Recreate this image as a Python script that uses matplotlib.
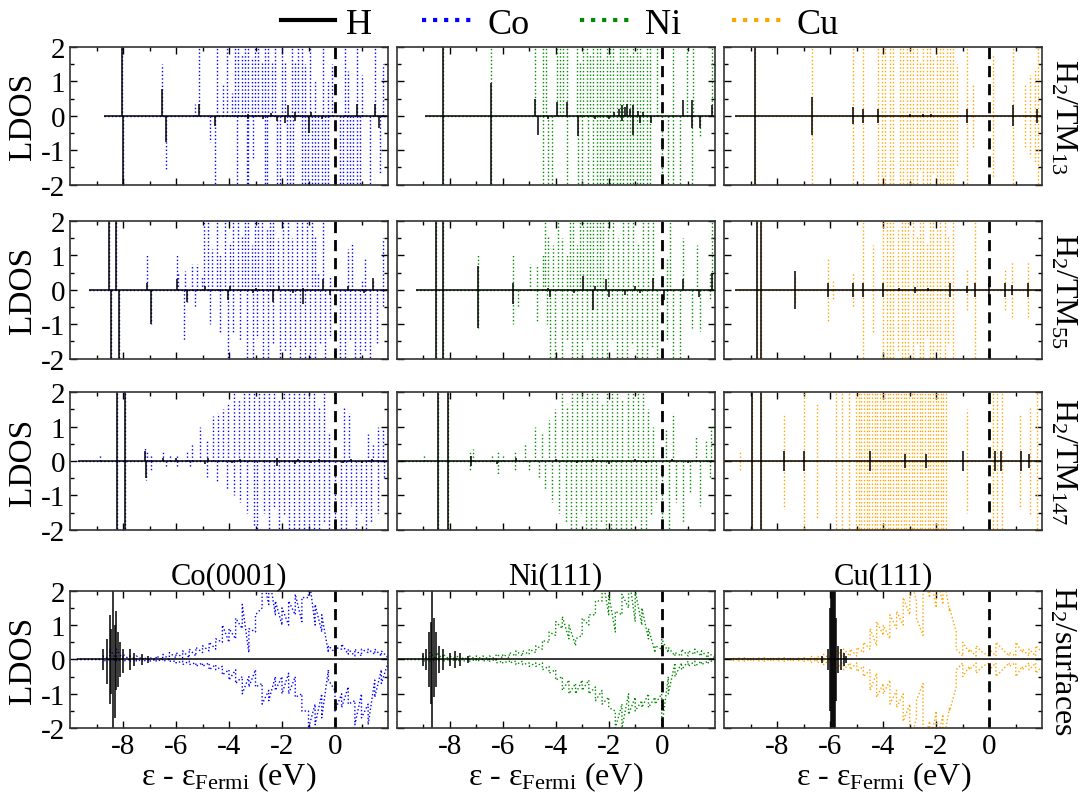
import matplotlib.pyplot as plt
import numpy as np
from matplotlib.lines import Line2D

plt.rcParams['font.family'] = ['Liberation Serif', 'DejaVu Serif']
plt.rcParams['mathtext.fontset'] = 'custom'
plt.rcParams['mathtext.rm'] = 'Liberation Serif'
plt.rcParams['mathtext.it'] = 'Liberation Serif:italic'
plt.rcParams['axes.unicode_minus'] = False

# ---- spike data for the clusters: [energy (eV), height]; 2.5 means clipped ----
# H2/Co13
co13_start = -8.7
co13_tm_up = [[-8.05, 2.5], [-6.52, 1.5], [-5.28, 0.35], [-5.13, 2.5], [-4.47, 2.5], [-4.24, 0.95],
              [-4.09, 2.5], [-3.90, 0.65], [-3.77, 2.5], [-3.65, 2.5], [-3.52, 1.8], [-3.40, 2.5],
              [-3.27, 2.5], [-3.14, 1.7], [-3.02, 2.5], [-2.89, 2.5], [-2.77, 1.6], [-2.64, 2.5],
              [-2.52, 2.5], [-2.39, 1.6], [-2.26, 2.5], [-2.01, 2.5], [-1.89, 1.6], [-1.64, 2.5],
              [-1.51, 1.6], [-1.38, 2.5], [-1.26, 2.5], [-1.13, 1.5], [-0.94, 2.5], [-0.75, 1.0],
              [-0.44, 2.5], [-0.25, 1.0], [-0.13, 1.5], [0.38, 2.5], [0.50, 1.3], [0.82, 2.5],
              [1.01, 1.2], [1.51, 2.5], [1.82, 1.5]]
co13_tm_dn = [[-8.01, 2.5], [-6.39, 1.56], [-4.72, 0.75], [-4.53, 2.5], [-3.71, 2.5], [-3.33, 2.5],
              [-3.27, 2.5], [-3.08, 1.3], [-2.64, 2.5], [-2.58, 2.5], [-2.20, 2.5], [-2.08, 2.5],
              [-1.82, 2.5], [-1.70, 2.5], [-1.57, 2.5], [-1.26, 2.5], [-1.13, 2.5], [-1.01, 2.5],
              [-0.88, 2.5], [-0.75, 2.5], [-0.63, 2.5], [-0.50, 2.5], [-0.38, 2.5], [-0.25, 2.5],
              [0.19, 2.5], [0.31, 2.5], [0.44, 2.5], [0.57, 2.5], [0.69, 2.5], [0.82, 2.5],
              [0.94, 2.5], [1.32, 2.5], [1.70, 1.7]]
co13_h_up = [[-8.05, 2.5], [-6.52, 0.78], [-5.14, 0.35], [-3.3, 0.05], [-2.4, 0.08], [-1.76, 0.3],
             [-1.5, 0.1], [-0.9, 0.1], [0.82, 0.35], [1.51, 0.35]]
co13_h_dn = [[-8.01, 2.5], [-6.39, 0.75], [-4.53, 0.3], [-3.3, 0.1], [-2.7, 0.1], [-2.2, 0.15],
             [-1.9, 0.2], [-1.5, 0.15], [-1.0, 0.5], [-0.5, 0.1], [1.65, 0.35]]

# H2/Ni13
ni13_start = -8.95
ni13_tm_up = [[-8.26, 2.5], [-6.44, 2.5], [-4.78, 2.5], [-4.47, 2.5], [-4.36, 2.5], [-3.96, 2.5],
              [-3.84, 2.5], [-3.71, 2.5], [-3.58, 2.5], [-3.21, 2.5], [-3.08, 1.6], [-2.96, 2.5],
              [-2.83, 2.5], [-2.70, 1.8], [-2.58, 2.5], [-2.45, 2.5], [-2.33, 2.5], [-2.20, 1.7],
              [-2.08, 2.5], [-1.95, 2.5], [-1.82, 2.5], [-1.70, 1.6], [-1.57, 2.5], [-1.45, 2.5],
              [-1.32, 2.5], [-1.19, 1.8], [-1.07, 2.5], [-0.94, 2.5], [-0.82, 2.5], [-0.69, 1.7],
              [-0.57, 2.5], [-0.44, 2.5], [-0.19, 2.5], [0.44, 2.5], [0.94, 2.5], [1.19, 2.5],
              [1.89, 2.5]]
ni13_tm_dn = [[-8.26, 2.5], [-6.44, 2.5], [-4.47, 2.5], [-4.28, 2.5], [-4.15, 2.5], [-3.58, 2.5],
              [-3.14, 2.5], [-3.02, 2.5], [-2.77, 2.5], [-2.58, 2.5], [-2.45, 2.5], [-2.33, 2.5],
              [-2.20, 2.5], [-2.08, 2.5], [-1.95, 2.5], [-1.82, 2.5], [-1.70, 2.5], [-1.57, 2.5],
              [-1.45, 2.5], [-1.32, 2.5], [-1.19, 2.5], [-1.07, 2.5], [-0.94, 2.5], [-0.82, 2.5],
              [-0.69, 2.5], [-0.57, 2.5], [-0.44, 2.5], [0.0, 2.5], [0.25, 2.5], [0.44, 2.5],
              [0.69, 2.5], [1.13, 2.5], [1.45, 0.6]]
ni13_h_up = [[-8.26, 2.5], [-6.44, 0.95], [-4.78, 0.5], [-3.96, 0.4], [-3.59, 0.4], [-1.8, 0.1],
             [-1.6, 0.2], [-1.5, 0.3], [-1.4, 0.25], [-1.3, 0.35], [-1.2, 0.2], [-1.1, 0.3],
             [-0.9, 0.15], [-0.7, 0.1], [0.82, 0.45], [1.13, 0.45], [1.89, 0.3]]
ni13_h_dn = [[-8.26, 2.5], [-6.44, 2.5], [-4.65, 0.55], [-4.3, 0.1], [-3.14, 0.6], [-2.5, 0.1],
             [-2.0, 0.1], [-1.5, 0.15], [-1.07, 0.55], [-0.8, 0.2], [-0.4, 0.2], [1.13, 0.35],
             [1.45, 0.35]]

# H2/Cu13 (up and down are the same)
cu13_start = -9.6
cu13_tm = [[-8.84, 2.5], [-6.70, 2.5], [-5.16, 2.5], [-4.75, 2.5], [-4.19, 2.5], [-4.06, 2.5],
           [-3.94, 2.5], [-3.75, 2.5], [-3.62, 2.5], [-3.37, 2.5], [-3.25, 2.5], [-3.12, 2.5],
           [-2.99, 2.5], [-2.87, 2.5], [-2.74, 2.5], [-2.62, 1.6], [-2.49, 2.5], [-2.36, 2.5],
           [-2.24, 2.5], [-2.11, 1.7], [-1.99, 2.5], [-1.86, 2.5], [-1.74, 2.5], [-1.61, 2.5],
           [-1.48, 2.5], [-1.36, 2.5], [-1.23, 1.5], [-0.86, 2.5], [-0.60, 0.9], [0.15, 1.8],
           [0.91, 2.5], [1.35, 0.9], [1.53, 1.2], [1.72, 1.4], [1.85, 2.5]]
cu13_h = [[-8.84, 2.5], [-6.70, 0.55], [-5.16, 0.25], [-4.75, 0.2], [-4.19, 0.2], [-3.0, 0.05],
          [-2.5, 0.05], [-2.2, 0.05], [-0.86, 0.2], [0.91, 0.3], [1.8, 0.2]]

# H2/Co55
co55_start = -9.27
co55_tm_up = [[-8.53, 2.5], [-8.26, 2.5], [-7.11, 1.0], [-5.97, 1.0], [-5.91, 0.5], [-5.66, 0.55],
              [-5.41, 0.75], [-5.22, 0.75], [-5.03, 0.4], [-4.94, 2.5], [-4.78, 2.5], [-4.65, 1.2],
              [-4.47, 2.5], [-4.34, 1.0], [-4.15, 2.5], [-3.96, 1.4], [-3.84, 2.5], [-3.65, 2.5],
              [-3.52, 1.6], [-3.40, 2.5], [-3.27, 2.5], [-3.14, 1.3], [-3.02, 2.5], [-2.89, 2.5],
              [-2.77, 2.5], [-2.58, 1.8], [-2.45, 2.5], [-2.33, 2.5], [-2.14, 1.5], [-1.95, 2.5],
              [-1.76, 2.5], [-1.64, 1.5], [-1.45, 2.5], [-1.26, 2.5], [-1.07, 2.5], [-0.88, 2.5],
              [-0.75, 1.6], [-0.63, 0.5], [-0.44, 2.5], [-0.19, 0.4], [0.50, 1.2], [0.63, 1.4],
              [1.01, 0.3], [1.13, 0.9], [1.45, 0.3], [1.82, 1.5]]
co55_tm_dn = [[-8.45, 2.5], [-8.15, 2.5], [-6.96, 1.0], [-5.69, 1.5], [-5.60, 0.35], [-5.28, 0.5],
              [-4.72, 1.0], [-4.34, 1.3], [-4.03, 2.5], [-3.84, 1.3], [-3.58, 1.5], [-3.33, 2.5],
              [-3.08, 2.5], [-2.96, 1.4], [-2.70, 2.5], [-2.52, 2.0], [-2.33, 1.6], [-2.08, 2.5],
              [-1.89, 1.8], [-1.70, 2.5], [-1.51, 1.7], [-1.32, 2.5], [-1.13, 2.5], [-0.94, 2.5],
              [-0.75, 2.5], [-0.57, 1.6], [-0.38, 2.5], [-0.19, 1.4], [0.19, 2.5], [0.38, 2.5],
              [0.57, 1.5], [0.75, 2.5], [0.94, 2.5], [1.13, 1.8], [1.32, 2.5], [1.57, 1.6],
              [1.82, 0.5]]
co55_h_up = [[-8.53, 2.5], [-8.26, 2.5], [-7.11, 0.2], [-5.97, 0.3], [-4.9, 0.1], [-3.96, 0.1],
             [-3.0, 0.05], [-2.1, 0.1], [-1.2, 0.05], [-0.44, 0.3], [0.5, 0.1], [1.45, 0.35]]
co55_h_dn = [[-8.45, 2.5], [-8.15, 2.5], [-6.96, 1.0], [-5.60, 0.35], [-4.03, 0.3], [-3.1, 0.1],
             [-2.33, 0.35], [-1.6, 0.1], [-1.19, 0.4], [-0.2, 0.15], [1.1, 0.1]]

# H2/Ni55
ni55_start = -9.27
ni55_tm_up = [[-8.52, 2.5], [-8.24, 2.5], [-6.92, 1.0], [-5.60, 1.0], [-4.97, 0.75], [-4.72, 0.7],
              [-4.47, 1.0], [-4.40, 2.5], [-4.28, 1.6], [-4.09, 1.3], [-3.90, 2.5], [-3.77, 1.5],
              [-3.58, 1.0], [-3.46, 2.5], [-3.33, 2.5], [-3.21, 1.3], [-3.08, 2.5], [-2.96, 2.5],
              [-2.83, 2.5], [-2.70, 2.5], [-2.58, 2.5], [-2.45, 2.5], [-2.33, 2.5], [-2.20, 2.5],
              [-2.01, 2.5], [-1.82, 2.5], [-1.64, 1.5], [-1.45, 2.5], [-1.26, 2.5], [-1.07, 2.5],
              [-0.88, 1.4], [-0.69, 2.5], [-0.50, 2.5], [-0.31, 2.5], [0.19, 0.9], [0.31, 2.5],
              [0.82, 1.5], [1.32, 1.3], [1.82, 0.5], [1.89, 2.5]]
ni55_tm_dn = [[-8.52, 2.5], [-8.24, 2.5], [-6.92, 1.1], [-5.60, 1.0], [-5.41, 0.5], [-4.72, 0.9],
              [-4.34, 1.0], [-4.21, 2.5], [-4.03, 2.5], [-3.77, 2.5], [-3.58, 1.5], [-3.40, 2.5],
              [-3.21, 2.5], [-3.02, 2.5], [-2.83, 1.5], [-2.64, 2.5], [-2.45, 2.5], [-2.26, 2.5],
              [-2.08, 2.5], [-1.89, 1.5], [-1.70, 2.5], [-1.51, 2.5], [-1.32, 2.5], [-1.13, 1.6],
              [-0.94, 2.5], [-0.75, 2.5], [-0.57, 2.5], [-0.38, 1.7], [-0.19, 2.5], [0.19, 1.5],
              [0.44, 2.5], [0.69, 2.5], [1.13, 1.1], [1.45, 1.2], [1.82, 0.3]]
ni55_h_up = [[-8.52, 2.5], [-8.24, 2.5], [-6.92, 0.7], [-5.60, 0.2], [-4.3, 0.05], [-2.96, 0.4],
             [-2.5, 0.1], [-2.1, 0.3], [-1.0, 0.1], [-0.31, 0.35], [0.82, 0.3], [1.89, 0.5]]
ni55_h_dn = [[-8.52, 2.5], [-8.24, 2.5], [-6.92, 1.1], [-5.60, 0.4], [-4.2, 0.2], [-3.3, 0.1],
             [-2.58, 0.6], [-2.0, 0.2], [-1.4, 0.15], [-0.8, 0.1], [0.1, 0.3], [1.4, 0.2]]

# H2/Cu55 (up and down are the same)
cu55_start = -9.6
cu55_tm = [[-8.75, 2.5], [-8.63, 2.5], [-7.33, 0.4], [-6.08, 0.9], [-5.89, 0.3], [-5.16, 0.5],
           [-4.78, 2.5], [-4.38, 1.3], [-4.00, 2.5], [-3.87, 2.5], [-3.75, 2.5], [-3.62, 2.5],
           [-3.43, 1.8], [-3.31, 2.5], [-3.18, 2.5], [-3.06, 2.5], [-2.87, 2.5], [-2.74, 1.6],
           [-2.62, 2.5], [-2.49, 2.5], [-2.36, 1.4], [-2.24, 2.5], [-2.11, 2.5], [-1.99, 1.8],
           [-1.86, 2.5], [-1.67, 2.5], [-1.55, 1.6], [-1.36, 2.5], [-0.86, 0.6], [-0.54, 2.5],
           [0.59, 0.6], [0.84, 0.8], [1.47, 0.8]]
cu55_h = [[-8.75, 2.5], [-8.63, 2.5], [-7.33, 0.55], [-6.08, 0.2], [-5.16, 0.2], [-4.78, 0.2],
          [-4.0, 0.2], [-3.4, 0.05], [-2.8, 0.08], [-2.3, 0.05], [-1.5, 0.2], [-0.86, 0.1],
          [-0.54, 0.2], [0.0, 0.2], [0.6, 0.2], [0.84, 0.15], [1.47, 0.2]]

# H2/Co147
co147_start = -9.7
co147_tm_up = [[-8.88, 0.2], [-8.23, 2.5], [-7.91, 2.5], [-7.18, 0.4], [-7.09, 0.3], [-6.96, 0.2],
               [-6.48, 0.3], [-6.23, 0.2], [-5.98, 0.15], [-5.60, 0.3], [-5.41, 0.5], [-5.09, 1.0],
               [-4.84, 0.6], [-4.59, 1.3], [-4.40, 1.4], [-4.21, 1.5], [-4.02, 1.7], [-3.83, 2.5],
               [-3.64, 1.8], [-3.45, 2.5], [-3.26, 2.5], [-3.07, 2.0], [-2.88, 2.5], [-2.69, 2.5],
               [-2.50, 2.5], [-2.31, 2.5], [-2.12, 1.8], [-1.93, 2.5], [-1.74, 2.5], [-1.55, 2.5],
               [-1.36, 2.5], [-1.17, 2.5], [-0.98, 2.5], [-0.79, 2.5], [-0.60, 1.6], [-0.41, 2.5],
               [-0.22, 0.8], [0.34, 1.6], [0.53, 1.4], [1.23, 0.8], [1.42, 0.5], [1.61, 1.0],
               [1.80, 0.9]]
co147_tm_dn = [[-8.23, 2.5], [-7.91, 2.5], [-7.12, 0.55], [-6.93, 0.3], [-6.36, 0.2], [-5.98, 0.2],
               [-5.47, 0.2], [-4.84, 0.45], [-4.46, 0.6], [-4.08, 0.8], [-3.83, 1.0], [-3.58, 1.2],
               [-3.32, 1.5], [-3.07, 1.9], [-2.94, 2.5], [-2.69, 1.5], [-2.50, 2.5], [-2.31, 1.4],
               [-2.12, 2.5], [-1.93, 1.6], [-1.74, 2.5], [-1.55, 2.5], [-1.36, 2.0], [-1.17, 2.5],
               [-0.98, 2.5], [-0.79, 2.5], [-0.60, 2.5], [-0.41, 1.8], [-0.22, 2.5], [0.0, 2.5],
               [0.22, 2.5], [0.41, 2.5], [0.60, 1.3], [0.79, 2.5], [0.98, 1.5], [1.17, 2.5],
               [1.36, 1.8], [1.61, 1.5], [1.86, 0.5]]
co147_h_up = [[-8.23, 2.5], [-7.91, 2.5], [-7.18, 0.3], [-6.5, 0.1], [-6.0, 0.1], [-4.8, 0.1],
              [-3.6, 0.05], [-2.2, 0.1], [-1.4, 0.05], [-0.6, 0.05], [0.6, 0.05], [1.4, 0.05]]
co147_h_dn = [[-8.23, 2.5], [-7.91, 2.5], [-7.12, 0.5], [-4.9, 0.1], [-3.9, 0.05], [-2.2, 0.15],
              [-1.5, 0.1], [-0.9, 0.05], [0.3, 0.05], [1.0, 0.05]]

# H2/Ni147
ni147_start = -10.0
ni147_tm_up = [[-8.96, 0.2], [-8.46, 2.5], [-8.05, 2.5], [-7.23, 0.3], [-7.11, 0.35], [-6.41, 0.2],
               [-6.16, 0.3], [-5.97, 0.2], [-5.52, 0.3], [-5.15, 0.5], [-4.77, 1.0], [-4.51, 0.8],
               [-4.26, 1.2], [-4.01, 1.5], [-3.75, 2.5], [-3.57, 1.6], [-3.38, 2.5], [-3.19, 2.5],
               [-3.00, 2.0], [-2.81, 2.5], [-2.62, 2.5], [-2.43, 2.5], [-2.24, 1.7], [-2.05, 2.5],
               [-1.86, 2.5], [-1.67, 2.5], [-1.48, 1.8], [-1.29, 2.5], [-1.10, 2.5], [-0.91, 2.0],
               [-0.72, 2.5], [-0.53, 1.5], [-0.34, 1.0], [0.16, 0.9], [0.42, 1.4], [1.30, 0.7],
               [1.68, 0.6], [1.87, 1.0]]
ni147_tm_dn = [[-8.46, 2.5], [-8.05, 2.5], [-7.23, 0.3], [-6.16, 0.4], [-5.52, 0.3], [-5.02, 0.3],
               [-4.64, 0.5], [-4.39, 0.8], [-4.13, 1.2], [-3.88, 1.5], [-3.63, 1.8], [-3.44, 2.5],
               [-3.25, 2.5], [-3.06, 1.5], [-2.87, 2.5], [-2.68, 2.5], [-2.49, 2.5], [-2.30, 1.8],
               [-2.11, 2.5], [-1.92, 2.5], [-1.73, 2.5], [-1.54, 2.0], [-1.35, 2.5], [-1.16, 2.5],
               [-0.97, 1.7], [-0.78, 2.5], [-0.59, 2.5], [-0.40, 1.6], [-0.21, 1.2], [0.0, 2.5],
               [0.29, 2.5], [0.54, 1.2], [0.80, 1.8], [1.05, 0.9], [1.43, 1.3], [1.81, 0.5]]
ni147_h_up = [[-8.46, 2.5], [-8.05, 2.5], [-7.2, 0.15], [-5.5, 0.1], [-4.0, 0.05], [-2.6, 0.05],
              [-1.0, 0.05], [0.4, 0.05]]
ni147_h_dn = [[-8.46, 2.5], [-8.05, 2.5], [-7.2, 0.15], [-6.2, 0.1], [-3.2, 0.05], [-2.0, 0.1],
              [-0.6, 0.05], [1.0, 0.05]]

# H2/Cu147 (up and down are the same)
cu147_start = -10.0
cu147_tm = [[-9.39, 0.3], [-8.95, 2.5], [-8.60, 2.5], [-7.75, 1.4], [-6.99, 2.5], [-6.49, 1.7],
            [-5.79, 2.0], [-5.54, 2.5], [-5.28, 2.5], [-5.03, 2.5], [-4.93, 2.5], [-4.83, 2.5],
            [-4.73, 2.5], [-4.63, 2.5], [-4.53, 2.5], [-4.43, 2.5], [-4.33, 2.5], [-4.23, 2.5],
            [-4.13, 2.5], [-4.03, 2.5], [-3.93, 2.5], [-3.83, 2.5], [-3.73, 2.5], [-3.63, 2.5],
            [-3.53, 2.5], [-3.43, 2.5], [-3.33, 2.5], [-3.23, 2.5], [-3.13, 2.5], [-3.03, 2.5],
            [-2.93, 2.5], [-2.83, 2.5], [-2.73, 2.5], [-2.63, 2.5], [-2.53, 2.5], [-2.43, 2.5],
            [-2.33, 2.5], [-2.23, 2.5], [-2.13, 2.5], [-2.03, 2.5], [-1.93, 2.5], [-1.83, 2.5],
            [-1.73, 2.5], [-1.63, 2.5], [-0.86, 1.5], [0.15, 2.5], [0.28, 2.5], [0.47, 2.5],
            [1.16, 1.4], [1.54, 1.6], [1.80, 2.5]]
cu147_h = [[-8.95, 2.5], [-8.60, 2.5], [-7.75, 0.3], [-6.99, 0.3], [-4.5, 0.3], [-3.2, 0.2],
           [-2.4, 0.2], [-1.0, 0.3], [0.2, 0.3], [0.45, 0.3], [1.2, 0.3], [1.5, 0.2]]

# ---- surfaces: energy grid with low/high values of the jagged curves ----
surf_e = np.arange(-9.75, 2.01, 0.25)
co_surf_up_lo = [0, 0, 0, 0, 0, 0, 0, 0, 0, 0, 0, 0, 0, 0, 0, 0.05, 0.05, 0.05, 0.1, 0.2, 0.25, 0.3,
                 0.5, 0.5, 0.6, 0.9, 0.2, 0.8, 1.5, 1.6, 1.3, 1.0, 1.0, 1.3, 1.1, 1.8, 1.0, 0.8,
                 0.2, 0.2, 0.3, 0.15, 0.1, 0.1, 0.2, 0.15, 0.1, 0.05]
co_surf_up_hi = [0, 0, 0, 0, 0.1, 0.3, 0.3, 0.15, 0.1, 0.1, 0.05, 0.05, 0.1, 0.15, 0.2, 0.2, 0.25,
                 0.3, 0.35, 0.4, 0.5, 0.6, 1.0, 0.9, 1.2, 1.6, 0.9, 1.3, 2.5, 2.5, 1.7, 1.5, 1.7,
                 1.9, 1.8, 2.5, 1.6, 1.3, 0.4, 0.35, 0.45, 0.3, 0.3, 0.3, 0.3, 0.3, 0.25, 0.15]
co_surf_dn_lo = [0, 0, 0, 0, 0, 0, 0, 0, 0, 0, 0, 0, 0, 0, 0, -0.05, -0.05, -0.05, -0.1, -0.1,
                 -0.1, -0.15, -0.2, -0.3, -0.3, -0.5, -0.5, -0.3, -0.7, -0.9, -0.5, -0.5, -0.4,
                 -0.5, -1.0, -1.5, -1.3, -1.0, -0.3, -0.9, -1.0, -0.8, -1.2, -1.0, -1.3, -0.6,
                 -0.3, -0.1]
co_surf_dn_hi = [0, 0, 0, 0, -0.05, -0.05, -0.05, -0.05, -0.05, -0.05, -0.05, -0.05, -0.05,
                 -0.05, -0.05, -0.1, -0.15, -0.15, -0.2, -0.2, -0.3, -0.3, -0.45, -0.6, -0.7, -1.0,
                 -0.8, -0.8, -1.3, -1.2, -0.9, -1.0, -1.0, -1.1, -1.5, -2.0, -1.9, -1.7, -0.6,
                 -1.5, -1.4, -1.3, -1.9, -1.7, -1.9, -1.1, -0.7, -0.3]
ni_surf_up_lo = [0, 0, 0, 0, 0, 0, 0, 0, 0, 0, 0, 0, 0, 0, 0, 0.05, 0.05, 0.1, 0.1, 0.15, 0.2, 0.3,
                 0.5, 0.7, 0.9, 0.6, 0.4, 0.7, 1.0, 1.3, 1.7, 1.3, 0.8, 1.3, 1.5, 1.1, 1.0, 0.6,
                 0.2, 0.3, 0.2, 0.1, 0.1, 0.1, 0.15, 0.1, 0.05, 0.05]
ni_surf_up_hi = [0, 0, 0, 0.1, 0.2, 0.2, 0.15, 0.1, 0.1, 0.05, 0.1, 0.1, 0.1, 0.1, 0.15, 0.15, 0.2,
                 0.25, 0.25, 0.3, 0.4, 0.55, 0.8, 1.1, 1.25, 1.0, 0.6, 1.2, 1.3, 1.7, 2.5, 1.9,
                 1.4, 1.9, 2.5, 2.0, 1.5, 0.9, 0.4, 0.6, 0.35, 0.2, 0.3, 0.25, 0.3, 0.25, 0.2,
                 0.15]
ni_surf_dn_lo = [0, 0, 0, 0, 0, 0, 0, 0, 0, 0, 0, 0, 0, 0, 0, -0.05, -0.05, -0.05, -0.05, -0.1,
                 -0.1, -0.1, -0.2, -0.3, -0.5, -0.6, -0.7, -0.6, -0.6, -0.8, -0.9, -1.1, -1.5,
                 -1.3, -1.0, -1.1, -1.2, -1.0, -1.1, -1.0, -0.5, -0.1, -0.1, -0.05, -0.05, -0.05,
                 -0.05, 0]
ni_surf_dn_hi = [0, 0, 0, -0.05, -0.05, -0.05, -0.05, -0.05, -0.05, -0.05, -0.05, -0.05, -0.05,
                 -0.05, -0.1, -0.1, -0.1, -0.15, -0.15, -0.2, -0.2, -0.3, -0.4, -0.6, -0.9, -1.0,
                 -1.0, -0.9, -1.0, -1.2, -1.3, -1.4, -2.0, -2.0, -1.6, -1.5, -1.4, -1.4, -1.3,
                 -2.0, -1.0, -0.5, -0.3, -0.2, -0.2, -0.15, -0.1, -0.1]
cu_surf_lo = [0, 0, 0, 0, 0, 0, 0, 0, 0, 0, 0, 0, 0, 0, 0, 0, 0, 0.05, 0.1, 0.1, 0.2, 0.3, 0.4,
              0.7, 0.6, 0.9, 1.0, 1.3, 1.7, 0.7, 1.8, 1.5, 1.6, 1.4, 0.8, 0.1, 0.2, 0.1, 0.2,
              0.1, 0.1, 0.3, 0.1, 0.1, 0.2, 0.1, 0.1, 0.2]
cu_surf_hi = [0.05, 0.05, 0.05, 0.05, 0.05, 0.05, 0.05, 0.05, 0.05, 0.05, 0.05, 0.05, 0.1, 0.1,
              0.15, 0.2, 0.25, 0.3, 0.3, 0.35, 0.5, 0.9, 1.1, 1.0, 1.3, 1.4, 1.8, 2.5, 1.2, 2.5,
              2.5, 2.5, 2.5, 1.5, 0.3, 0.5, 0.3, 0.4, 0.2, 0.3, 0.5, 0.3, 0.2, 0.5, 0.3, 0.3,
              0.4, 0.3]

# H on the surfaces: [energy, up, down]
co_surf_h = [[-8.75, 0.3, 0.3], [-8.6, 0.6, 0.7], [-8.5, 1.3, 1.3], [-8.45, 0.9, 1.0],
             [-8.38, 2.5, 2.5], [-8.32, 1.0, 1.7], [-8.25, 1.4, 0.9], [-8.18, 0.8, 0.8],
             [-8.1, 0.5, 0.5], [-8.0, 0.3, 0.4], [-7.75, 0.3, 0.3], [-7.6, 0.2, 0.2],
             [-7.3, 0.15, 0.15], [-7.05, 0.1, 0.1]]
ni_surf_h = [[-9.0, 0.2, 0.2], [-8.9, 0.3, 0.3], [-8.8, 0.8, 0.8], [-8.72, 1.1, 1.3],
             [-8.65, 2.5, 2.5], [-8.58, 1.2, 1.1], [-8.5, 0.8, 0.8], [-8.4, 0.4, 0.4],
             [-8.25, 0.3, 0.3], [-8.0, 0.2, 0.2], [-7.8, 0.25, 0.25], [-7.6, 0.2, 0.2],
             [-7.3, 0.1, 0.1]]
cu_surf_h = [[-6.3, 0.1, 0.1], [-6.1, 0.3, 0.3], [-6.0, 1.5, 1.5], [-5.97, 2.5, 2.5],
             [-5.93, 2.5, 2.5], [-5.9, 2.5, 2.5], [-5.87, 2.5, 2.5], [-5.84, 2.5, 2.5],
             [-5.8, 1.2, 1.2], [-5.7, 0.4, 0.4], [-5.6, 0.3, 0.3], [-5.5, 0.2, 0.2],
             [-5.4, 0.1, 0.1]]

colors = {'Co': '#0000ff', 'Ni': '#008a00', 'Cu': '#ffa500'}
metals = ['Co', 'Ni', 'Cu']
row_labels = [r'H$_2$/TM$_{13}$', r'H$_2$/TM$_{55}$', r'H$_2$/TM$_{147}$', r'H$_2$/surfaces']
surf_titles = ['Co(0001)', 'Ni(111)', 'Cu(111)']

clusters = [
    [(co13_start, co13_tm_up, co13_tm_dn, co13_h_up, co13_h_dn),
     (ni13_start, ni13_tm_up, ni13_tm_dn, ni13_h_up, ni13_h_dn),
     (cu13_start, cu13_tm, cu13_tm, cu13_h, cu13_h)],
    [(co55_start, co55_tm_up, co55_tm_dn, co55_h_up, co55_h_dn),
     (ni55_start, ni55_tm_up, ni55_tm_dn, ni55_h_up, ni55_h_dn),
     (cu55_start, cu55_tm, cu55_tm, cu55_h, cu55_h)],
    [(co147_start, co147_tm_up, co147_tm_dn, co147_h_up, co147_h_dn),
     (ni147_start, ni147_tm_up, ni147_tm_dn, ni147_h_up, ni147_h_dn),
     (cu147_start, cu147_tm, cu147_tm, cu147_h, cu147_h)],
]
surfaces = [
    (-9.75, co_surf_up_lo, co_surf_up_hi, co_surf_dn_lo, co_surf_dn_hi, co_surf_h),
    (-10.0, ni_surf_up_lo, ni_surf_up_hi, ni_surf_dn_lo, ni_surf_dn_hi, ni_surf_h),
    (-10.0, cu_surf_lo, cu_surf_hi, [-v for v in cu_surf_lo], [-v for v in cu_surf_hi], cu_surf_h),
]

fig = plt.figure(figsize=(10.85, 8.03), dpi=100)
W, H = 1085.0, 803.0
lefts = [70, 396.7, 724.3]
tops = [48, 222, 393.3, 591.7]
pw, ph = 318, 137.5


def spikes(ax, data, sign, color, ls, lw):
    d = np.array(data, dtype=float)
    ax.vlines(d[:, 0], 0, sign * d[:, 1], colors=color, linestyles=ls, linewidths=lw)


for r in range(4):
    for c in range(3):
        ax = fig.add_axes([lefts[c] / W, 1 - (tops[r] + ph) / H, pw / W, ph / H])
        col = colors[metals[c]]
        if r < 3:
            start, tm_up, tm_dn, h_up, h_dn = clusters[r][c]
            ax.hlines(0, start, 2, colors=col, linestyles='dotted', linewidth=1.0)
            spikes(ax, tm_up, 1, col, 'dotted', 1.0)
            spikes(ax, tm_dn, -1, col, 'dotted', 1.0)
            ax.hlines(0, start, 2, colors='k', linewidth=1.1)
            spikes(ax, h_up, 1, 'k', 'solid', 1.1)
            spikes(ax, h_dn, -1, 'k', 'solid', 1.1)
        else:
            start, up_lo, up_hi, dn_lo, dn_hi, hs = surfaces[c]
            m = surf_e >= start - 1e-6
            ex = np.repeat(surf_e[m], 2)
            yu = np.column_stack([np.array(up_lo)[m], np.array(up_hi)[m]]).ravel()
            yd = np.column_stack([np.array(dn_lo)[m], np.array(dn_hi)[m]]).ravel()
            ax.plot(ex, yu, color=col, ls=':', lw=1.0)
            ax.plot(ex, yd, color=col, ls=':', lw=1.0)
            ax.hlines(0, start, 2, colors='k', linewidth=1.1)
            hd = np.array(hs)
            ax.vlines(hd[:, 0], -hd[:, 2], hd[:, 1], colors='k', linewidth=1.1)
            ax.set_title(surf_titles[c], fontsize=22, pad=4)
            ax.set_xlabel('ε - ε$_{\\mathrm{Fermi}}$ (eV)', fontsize=23, labelpad=0)
        ax.axvline(0, color='k', ls=(0, (4, 2.5)), lw=2.0)
        ax.set_xlim(-10, 2)
        ax.set_ylim(-2, 2)
        ax.set_xticks([-8, -6, -4, -2, 0])
        ax.set_xticks([-9, -7, -5, -3, -1, 1], minor=True)
        ax.set_yticks([-2, -1, 0, 1, 2])
        ax.set_yticks([-1.5, -0.5, 0.5, 1.5], minor=True)
        ax.tick_params(which='both', direction='in', top=True, right=True, labelsize=21, width=1)
        ax.tick_params(which='major', length=5)
        ax.tick_params(which='minor', length=3)
        ax.tick_params(labelbottom=(r == 3), labelleft=(c == 0))
        for s in ax.spines.values():
            s.set_linewidth(1.2)
            s.set_color('#333333')
        if c == 0:
            ax.set_ylabel('LDOS', fontsize=24, labelpad=2)
        if c == 2:
            fig.text(1063 / W, 1 - (tops[r] + ph / 2) / H, row_labels[r], rotation=270,
                     ha='center', va='center', fontsize=23)

handles = [Line2D([], [], color='k', lw=3, ls='-'),
           Line2D([], [], color=colors['Co'], lw=3, ls=':'),
           Line2D([], [], color=colors['Ni'], lw=3, ls=':'),
           Line2D([], [], color=colors['Cu'], lw=3, ls=':')]
fig.legend(handles, ['H', 'Co', 'Ni', 'Cu'], loc='center', bbox_to_anchor=(560 / W, 1 - 25 / H),
           ncol=4, frameon=False, fontsize=26, handlelength=1.5, columnspacing=1.4,
           handletextpad=0.3, borderaxespad=0)

fig.savefig('out.png', dpi=100)
